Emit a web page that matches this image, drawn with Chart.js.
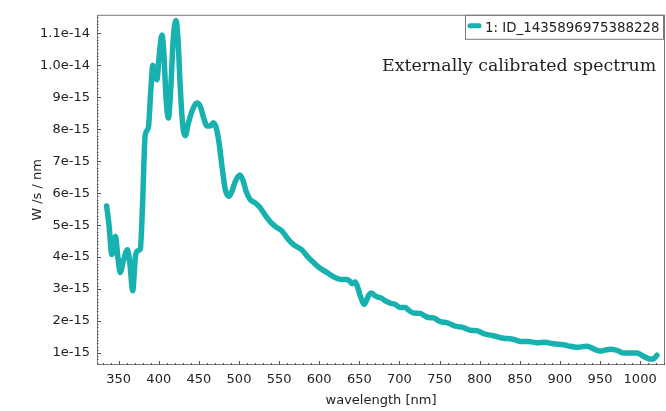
<!DOCTYPE html>
<html>
<head>
<meta charset="utf-8">
<script src="https://cdn.jsdelivr.net/npm/chart.js@4.4.0/dist/chart.umd.min.js"></script>
<style>
  html, body { margin: 0; padding: 0; background: #fff; }
  #wrap { width: 666px; height: 411px; position: relative; }
</style>
</head>
<body>
<div id="wrap"><canvas id="grafico"></canvas></div>
<script>
const wavelengths = [
  335, 338, 341.5, 344, 346, 349, 352, 356, 361, 364, 367.5, 371, 374, 377, 380, 383, 387, 390,
  392.6, 395, 397.6, 400.5, 403.9, 406.5, 409, 412, 415, 418, 421.3, 424, 427, 430, 433, 437,
  442, 447.5, 452, 456, 460, 464, 468, 471.5, 475, 479, 483, 487.5, 491, 496, 501, 505, 509,
  514, 520, 526, 533, 541, 547, 553.5, 560, 568, 574, 578.5, 586, 593, 601, 609.5, 617, 624,
  630, 634.5, 638, 641, 645, 648, 651, 654, 656, 659, 662, 665, 669, 672, 678, 683, 688.5,
  695, 701, 707, 712, 717.6, 726, 731, 736.3, 742.5, 748, 753, 759, 764, 769.6, 778, 783,
  788.3, 796.6, 802, 807, 817, 823, 830, 840, 845, 851, 861, 866, 871, 882, 887, 892, 904,
  913, 918, 923, 929, 934, 942, 950, 956, 963, 969, 974, 979, 988, 996, 1000, 1004, 1009,
  1013, 1017.5, 1021
];
const flux = [
  5.6e-15, 5.0e-15, 4.08e-15, 4.5e-15, 4.65e-15, 4.0e-15, 3.52e-15, 3.9e-15, 4.23e-15, 3.8e-15,
  2.95e-15, 4.05e-15, 4.2e-15, 4.25e-15, 5.8e-15, 7.8e-15, 8.05e-15, 9.2e-15,
  1.0e-14, 9.8e-15, 9.55e-15, 1.03e-14, 1.095e-14, 1.03e-14, 9.0e-15, 8.35e-15, 9.3e-15, 1.08e-14,
  1.14e-14, 1.08e-14, 9.2e-15, 8.1e-15, 7.8e-15, 8.2e-15,
  8.6e-15, 8.82e-15, 8.7e-15, 8.35e-15, 8.1e-15, 8.1e-15, 8.2e-15, 8.05e-15, 7.6e-15, 6.8e-15,
  6.1e-15, 5.9e-15, 6.05e-15, 6.4e-15, 6.57e-15, 6.4e-15, 6.05e-15,
  5.8e-15, 5.7e-15, 5.56e-15, 5.3e-15, 5.05e-15, 4.93e-15, 4.82e-15, 4.6e-15, 4.39e-15, 4.3e-15,
  4.22e-15, 4.0e-15, 3.83e-15, 3.65e-15, 3.52e-15, 3.4e-15, 3.32e-15,
  3.3e-15, 3.3e-15, 3.25e-15, 3.17e-15, 3.22e-15, 3.05e-15, 2.8e-15, 2.6e-15, 2.52e-15, 2.65e-15,
  2.82e-15, 2.88e-15, 2.8e-15, 2.76e-15, 2.71e-15, 2.62e-15, 2.56e-15,
  2.52e-15, 2.42e-15, 2.42e-15, 2.33e-15, 2.25e-15, 2.24e-15, 2.17e-15, 2.11e-15, 2.1e-15, 2.02e-15,
  1.97e-15, 1.95e-15, 1.9e-15, 1.84e-15, 1.81e-15, 1.76e-15,
  1.71e-15, 1.7e-15, 1.64e-15, 1.59e-15, 1.54e-15, 1.5e-15, 1.46e-15, 1.44e-15, 1.4e-15, 1.36e-15,
  1.36e-15, 1.34e-15, 1.32e-15, 1.34e-15, 1.31e-15, 1.29e-15, 1.26e-15,
  1.21e-15, 1.19e-15, 1.18e-15, 1.2e-15, 1.21e-15, 1.13e-15, 1.06e-15, 1.09e-15, 1.12e-15, 1.1e-15,
  1.05e-15, 1.0e-15, 1.0e-15, 1.0e-15, 0.96e-15, 0.9e-15, 0.84e-15,
  0.81e-15, 0.83e-15, 0.93e-15
];

const seriesLabel = '1: ID_1435896975388228';
const chartTitle = 'Externally calibrated spectrum';

// Marcas de los ejes
const xTicks = [350, 400, 450, 500, 550, 600, 650, 700, 750, 800, 850, 900, 950, 1000];
const yTicks = [1e-15, 2e-15, 3e-15, 4e-15, 5e-15, 6e-15, 7e-15, 8e-15, 9e-15, 1.0e-14, 1.1e-14];
const yTickLabels = ['1e-15', '2e-15', '3e-15', '4e-15', '5e-15', '6e-15', '7e-15', '8e-15', '9e-15', '1.0e-14', '1.1e-14'];

const COLOR_LINEA = '#17b1af';
const COLOR_EJE = '#7a7a7a';
const FUENTE = "'DejaVu Sans', sans-serif";

// Caja del área, marcas hacia dentro, leyenda y título
const decoracion = {
  id: 'decoracion',
  afterDraw(chart) {
    const { ctx, chartArea: a, scales } = chart;
    ctx.save();
    ctx.strokeStyle = COLOR_EJE;
    ctx.lineWidth = 1;
    ctx.strokeRect(a.left + 0.5, a.top + 0.5, a.right - a.left - 1, a.bottom - a.top - 1);

    // marcas menores y mayores
    ctx.strokeStyle = '#555';
    ctx.beginPath();
    for (let nm = 330; nm <= 1030; nm += 10) {
      const x = Math.round(scales.x.getPixelForValue(nm)) + 0.5;
      const len = nm % 50 === 0 ? 4 : 2;
      ctx.moveTo(x, a.bottom);
      ctx.lineTo(x, a.bottom - len);
    }
    for (let i = 7; i <= 115; i++) {
      const y = Math.round(scales.y.getPixelForValue(i * 1e-16)) + 0.5;
      const len = i % 10 === 0 ? 4 : 1.5;
      ctx.moveTo(a.left, y);
      ctx.lineTo(a.left + len, y);
    }
    ctx.stroke();

    // leyenda
    const lx = 465, ly = a.top, lw = a.right - 2 - lx, lh = 24;
    ctx.strokeStyle = COLOR_EJE;
    ctx.strokeRect(lx + 0.5, ly + 0.5, lw, lh);
    ctx.strokeStyle = COLOR_LINEA;
    ctx.lineWidth = 5;
    ctx.lineCap = 'round';
    ctx.beginPath();
    ctx.moveTo(470, ly + 11);
    ctx.lineTo(479, ly + 11);
    ctx.stroke();
    ctx.fillStyle = '#222';
    ctx.font = '13.4px ' + FUENTE;
    ctx.textBaseline = 'middle';
    ctx.textAlign = 'left';
    ctx.fillText(seriesLabel, 485, ly + 14);

    // título dentro del gráfico
    ctx.font = '16px "DejaVu Serif", serif';
    const w = ctx.measureText(chartTitle).width;
    const size = 16 * 274 / w;
    ctx.font = size.toFixed(1) + 'px "DejaVu Serif", serif';
    ctx.textBaseline = 'alphabetic';
    ctx.fillText(chartTitle, 382, 71);
    ctx.restore();
  }
};

const ctx = document.getElementById('grafico').getContext('2d');
new Chart(ctx, {
  type: 'line',
  data: {
    datasets: [{
      label: seriesLabel,
      data: wavelengths.map((w, i) => ({ x: w, y: flux[i] })),
      borderColor: COLOR_LINEA,
      borderWidth: 5.5,
      pointRadius: 0,
      cubicInterpolationMode: 'monotone',
      borderCapStyle: 'round',
      borderJoinStyle: 'round',
      fill: false,
    }],
  },
  options: {
    responsive: true,
    maintainAspectRatio: false,
    animation: false,
    layout: { padding: { top: 6, right: 1, left: 0, bottom: 0 } },
    plugins: {
      legend: { display: false },
      tooltip: { enabled: false },
    },
    scales: {
      x: {
        type: 'linear',
        min: 323,
        max: 1031,
        afterFit: (s) => { s.height = 46; },
        afterBuildTicks: (s) => { s.ticks = xTicks.map(v => ({ value: v })); },
        grid: { display: false, drawTicks: false },
        border: { display: false },
        ticks: {
          color: '#222',
          padding: 7,
          maxRotation: 0,
          font: { family: FUENTE, size: 13 },
          callback: (v) => String(v),
        },
        title: {
          display: true,
          text: 'wavelength [nm]',
          color: '#222',
          font: { family: FUENTE, size: 13 },
          padding: { top: 0, bottom: 3 },
        },
      },
      y: {
        type: 'linear',
        min: 0.625e-15,
        max: 1.158e-14,
        afterFit: (s) => { s.width = 97; },
        afterBuildTicks: (s) => { s.ticks = yTicks.map(v => ({ value: v })); },
        grid: { display: false, drawTicks: false },
        border: { display: false },
        ticks: {
          color: '#222',
          padding: 7,
          font: { family: FUENTE, size: 13 },
          callback: (v, i) => yTickLabels[i],
        },
        title: {
          display: true,
          text: 'W /s / nm',
          color: '#222',
          font: { family: FUENTE, size: 13 },
          padding: { top: 30, bottom: 0 },
        },
      },
    },
  },
  plugins: [decoracion],
});
</script>
</body>
</html>
